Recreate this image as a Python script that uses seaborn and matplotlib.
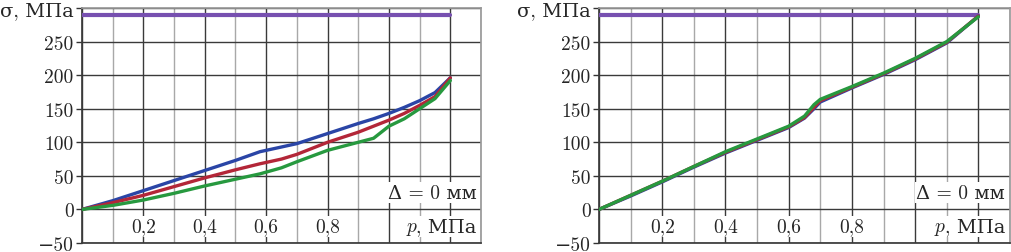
import numpy as np
import pandas as pd
import matplotlib
matplotlib.use("Agg")
import matplotlib.pyplot as plt
import seaborn as sns

# left panel
p_left = [0, 0.1, 0.2, 0.3, 0.4, 0.5, 0.58, 0.65, 0.7, 0.8, 0.9, 0.95, 1.0, 1.05, 1.1, 1.15, 1.2]
blue_left = [0, 13, 28, 43, 58, 73, 86, 93, 98, 113, 128, 135, 143, 152, 162, 174, 196]
red_left = [0, 10, 21, 34, 47, 59, 68, 75, 82, 100, 115, 124, 133, 143, 155, 168, 196]
green_left = [0, 6, 14, 24, 35, 45, 53, 62, 71, 88, 100, 106, 124, 135, 150, 165, 192]

# right panel
p_right = [0, 0.1, 0.2, 0.3, 0.4, 0.5, 0.6, 0.65, 0.68, 0.7, 0.8, 0.9, 1.0, 1.1, 1.2]
blue_right = [0, 20, 41, 63, 84, 103, 122, 136, 150, 160, 181, 201, 223, 248, 288]
red_right = [0, 21, 42, 64, 85, 104, 123, 137, 152, 162, 182, 202, 224, 249, 288]
green_right = [0, 21, 42, 64, 86, 105, 124, 139, 156, 164, 183, 203, 225, 250, 287]

limit_p = [0, 1.2]
limit_sigma = [289, 289]

yticks = [-50, 0, 50, 100, 150, 200, 250, 300]
ytick_labels = ["\u221250", "0", "50", "100", "150", "200", "250", "σ, МПа"]
xtick_pos = [0.2, 0.4, 0.6, 0.8]
xtick_labels = ["0,2", "0,4", "0,6", "0,8"]

palette = {"blue": "#2a45a6", "red": "#b32638", "green": "#27993f"}

sns.set_theme(style="white")
plt.rcParams["font.family"] = ["cmr10", "DejaVu Serif"]
plt.rcParams["axes.formatter.use_mathtext"] = True


def make_df(p, b, r, g):
    rows = []
    for name, vals in (("blue", b), ("red", r), ("green", g)):
        for x, y in zip(p, vals):
            rows.append({"p": x, "sigma": y, "curve": name})
    return pd.DataFrame(rows)


def draw(ax, df):
    ax.set_xlim(0, 1.3)
    ax.set_ylim(-50, 300)
    ax.set_xticks(np.arange(0, 1.31, 0.2))
    ax.set_xticks(np.arange(0.1, 1.31, 0.2), minor=True)
    ax.set_yticks(yticks)
    ax.set_yticklabels(ytick_labels, fontsize=14)
    ax.tick_params(axis="y", which="major", length=4, width=1, color="#333333",
                   left=True, pad=2)
    ax.tick_params(axis="x", which="both", length=0, labelbottom=False)
    ax.grid(True, which="major", color="#3a3a3a", lw=1.0)
    ax.grid(True, which="minor", axis="x", color="#a8a8a8", lw=1.0)
    ax.set_axisbelow(True)
    for s in ("left", "bottom"):
        ax.spines[s].set_color("#3a3a3a")
    for s in ("top", "right"):
        ax.spines[s].set_color("#999999")
    ax.plot(limit_p, limit_sigma, color="#7750b0", lw=3, zorder=3)
    sns.lineplot(data=df, x="p", y="sigma", hue="curve", palette=palette,
                 hue_order=["blue", "red", "green"], lw=2.4, ax=ax,
                 legend=False, zorder=4, sort=False)
    ax.set_xlabel("")
    ax.set_ylabel("")
    box = dict(facecolor="white", edgecolor="none", pad=1)
    for x, t in zip(xtick_pos, xtick_labels):
        ax.text(x, -25, t, ha="center", va="center", fontsize=14, bbox=box, zorder=5)
    unit = ax.text(1.285, -25, ", МПа", ha="right", va="center", fontsize=14,
                   bbox=box, zorder=5)
    ax.annotate("p", xy=(0, 0.5), xycoords=unit, ha="right", va="center",
                fontsize=14, family=["cmmi10", "DejaVu Serif"], bbox=box, zorder=5)
    ax.text(1.285, 25, "Δ = 0 мм", ha="right", va="center", fontsize=14, bbox=box, zorder=5)


fig = plt.figure(figsize=(10.11, 2.53), dpi=100)
ax1 = fig.add_axes([0.0811, 0.0356, 0.3947, 0.9288])
ax2 = fig.add_axes([0.5925, 0.0356, 0.4065, 0.9288])

draw(ax1, make_df(p_left, blue_left, red_left, green_left))
draw(ax2, make_df(p_right, blue_right, red_right, green_right))

fig.savefig("out.png", dpi=100)
